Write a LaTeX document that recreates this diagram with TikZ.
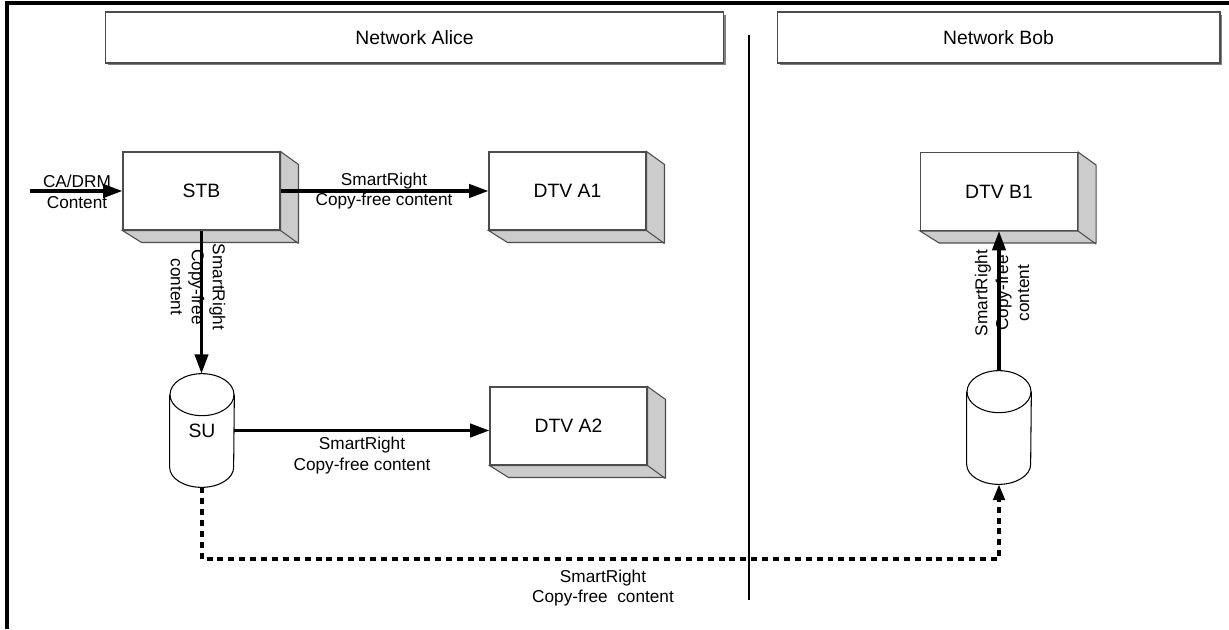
\documentclass[tikz,border=0pt]{standalone}
\usepackage{fontspec}
\setmainfont{Liberation Sans}
\usetikzlibrary{arrows.meta,shadows}

\tikzset{
  device/.style={rectangle, draw=black!70, line width=0.6pt, fill=white,
    minimum width=3.14cm, minimum height=1.56cm, inner sep=0pt,
    font=\fontsize{11}{13}\selectfont},
  face/.style={draw=black!70, line width=0.6pt, fill=gray!40},
  network/.style={rectangle, draw=black!70, line width=0.6pt, fill=white,
    minimum height=1.02cm, inner sep=0pt,
    drop shadow={shadow xshift=0.05cm, shadow yshift=-0.05cm, fill=gray, opacity=1},
    font=\fontsize{11}{13}\selectfont},
  store/.style={rectangle, minimum width=1.28cm, minimum height=2.26cm,
    inner sep=0pt, font=\fontsize{11}{13}\selectfont},
  cyl/.style={draw=black, line width=0.6pt},
  lbl/.style={align=center, inner sep=0pt, font=\fontsize{9.8}{11.9}\selectfont},
  flow/.style={line width=2pt, -{Triangle[length=11pt,width=7.5pt]}},
  share/.style={line width=2pt, dash pattern=on 3.4pt off 2.8pt,
    -{Triangle[length=9pt,width=6.5pt]}}
}

\begin{document}
\begin{tikzpicture}[x=0.02cm, y=-0.02cm]
        \useasboundingbox (0,0) rectangle (1229,629);
        % Frame and divider
        \draw[line width=2pt] (1229,3) -- (7,3) -- (7,629);
        \draw[line width=1.2pt] (749,35) -- (749,600);

        % Nodes
        \node (alice) [network, minimum width=12.38cm] at (414.5,37.5) {Network Alice};
        \node (bob) [network, minimum width=8.86cm] at (998.5,37.5) {Network Bob};
        \node (stb) [device] at (201.5,191) {STB};
        \node (dtva1) [device] at (567.5,191) {DTV A1};
        \node (dtva2) [device] at (568.5,426) {DTV A2};
        \node (dtvb1) [device] at (999,191.5) {DTV B1};
        \node (su) [store] at (202,430.5) {SU};
        \node (sub) [store] at (999,427.5) {};
        \coordinate (cain) at (30,191);
        \coordinate (turn) at (202,559);

        % Box sides
        \foreach \n in {stb,dtva1,dtva2,dtvb1} {
          \filldraw[face] (\n.north east) -- ++(18,13) -- ++(0,78) -- ++(-157,0)
            -- (\n.south west) -- (\n.south east) -- cycle;
          \draw[face] (\n.south east) -- ++(18,13);
        }

        % Cylinders
        \foreach \n in {su,sub} {
          \draw[cyl] ([yshift=-0.42cm]\n.north west) -- ([yshift=0.4cm]\n.south west)
            arc[start angle=180, end angle=360, x radius=0.64cm, y radius=0.4cm]
            -- ([yshift=-0.42cm]\n.north east);
          \draw[cyl] ([yshift=-0.42cm]\n.north) ellipse [x radius=0.64cm, y radius=0.42cm];
        }

        % Edges
        \draw[flow] (cain) -- (stb.west);
        \draw[flow] (stb.east) -- (dtva1.west);
        \draw[flow] (stb.south) -- (stb.south |- su.north);
        \draw[flow] (su.east) -- (su.east -| dtva2.west);
        \draw[flow] (sub.north) -- (dtvb1.south);
        \draw[share] (su.south) -- (turn) -| (sub.south);

        % Labels
        \node (lcain) [lbl] at (77,192) {CA/DRM\\Content};
        \node (la1) [lbl] at (384,191) {SmartRight\\Copy-free content};
        \node (lsu) [lbl, rotate=-90] at (198,287) {SmartRight\\Copy-free\\content};
        \node (la2) [lbl] at (362,455.5) {SmartRight\\Copy-free content};
        \node (lb1) [lbl, rotate=90] at (1002,293) {SmartRight\\Copy-free\\content};
        \node (lshare) [lbl] at (603,588) {SmartRight\\Copy-free\ \ content};

    \end{tikzpicture}
\end{document}
